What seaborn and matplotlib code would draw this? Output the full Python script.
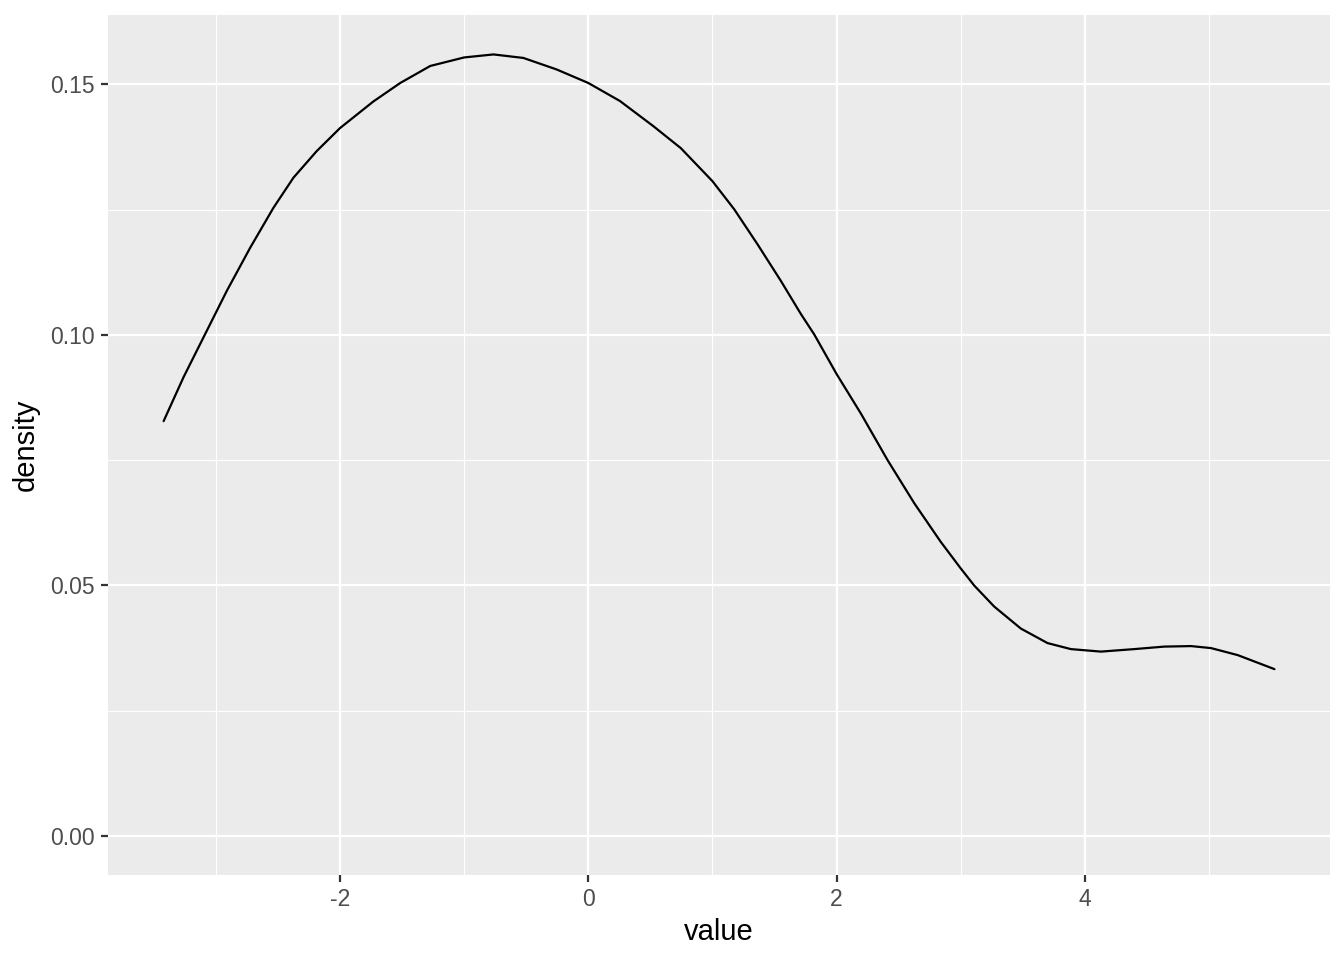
import seaborn as sns
import matplotlib.pyplot as plt
import pandas as pd
from matplotlib.ticker import FixedLocator

# density curve
value = [-3.421, -3.260, -3.086, -2.912, -2.724, -2.536, -2.375, -2.188, -2.000,
         -1.732, -1.515, -1.273, -1.000, -0.764, -0.523, -0.255, 0.000, 0.255,
         0.523, 0.745, 1.000, 1.175, 1.363, 1.551, 1.712, 1.820, 2.000, 2.196,
         2.411, 2.626, 2.839, 3.000, 3.108, 3.269, 3.484, 3.699, 3.887, 4.129,
         4.398, 4.640, 4.855, 5.016, 5.231, 5.527]
density = [0.0828, 0.0916, 0.1002, 0.1088, 0.1174, 0.1254, 0.1314, 0.1367, 0.1413,
           0.1466, 0.1503, 0.1537, 0.1554, 0.1560, 0.1553, 0.1530, 0.1503, 0.1467,
           0.1417, 0.1373, 0.1307, 0.1251, 0.1181, 0.1108, 0.1042, 0.1001, 0.0922, 0.0843,
           0.0750, 0.0664, 0.0587, 0.0534, 0.0500, 0.0458, 0.0414, 0.0385, 0.0373, 0.0368,
           0.0373, 0.0378, 0.0379, 0.0375, 0.0361, 0.0333]

x_ticks = [-2, 0, 2, 4]
x_labels = ['-2', '0', '2', '4']
y_ticks = [0.00, 0.05, 0.10, 0.15]
y_labels = ['0.00', '0.05', '0.10', '0.15']

df = pd.DataFrame({'value': value, 'density': density})

sns.set_style('darkgrid', {'axes.facecolor': '#EBEBEB', 'grid.color': 'white'})
plt.rcParams['font.family'] = ['Liberation Sans', 'DejaVu Sans']

fig = plt.figure(figsize=(13.44, 9.6), dpi=100)
ax = fig.add_axes([0.0804, 0.0885, 0.9092, 0.8955])

sns.lineplot(data=df, x='value', y='density', color='black', linewidth=1.6, ax=ax, sort=False)

# ggplot-like expansion
span = max(value) - min(value)
ax.set_xlim(min(value) - 0.05 * span, max(value) + 0.05 * span)
ytop = max(density)
ax.set_ylim(0 - 0.05 * ytop, ytop * 1.05)

ax.xaxis.set_major_locator(FixedLocator(x_ticks))
ax.xaxis.set_minor_locator(FixedLocator([-3, -1, 1, 3, 5]))
ax.yaxis.set_major_locator(FixedLocator(y_ticks))
ax.yaxis.set_minor_locator(FixedLocator([0.025, 0.075, 0.125]))
ax.set_xticklabels(x_labels)
ax.set_yticklabels(y_labels)

ax.grid(which='major', color='white', linewidth=1.6)
ax.grid(which='minor', color='white', linewidth=0.8)
ax.set_axisbelow(True)
for s in ax.spines.values():
    s.set_visible(False)

ax.tick_params(which='major', length=5.3, width=1.6, color='#333333',
               labelsize=16.5, labelcolor='#4D4D4D', pad=4, bottom=True, left=True)
ax.tick_params(which='minor', length=0)

ax.set_xlabel('value', fontsize=21, color='black', labelpad=5)
ax.set_ylabel('density', fontsize=21, color='black', labelpad=8)

fig.savefig('out.png', dpi=100, facecolor='white')
